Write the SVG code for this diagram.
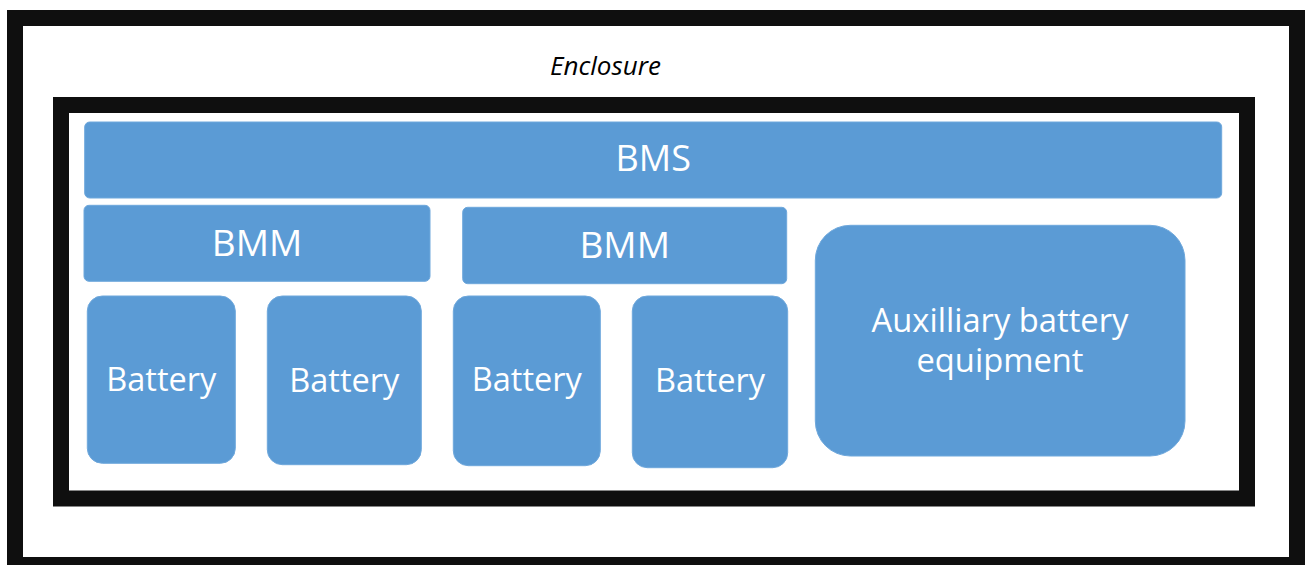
<svg xmlns="http://www.w3.org/2000/svg" width="1309" height="565" viewBox="0 0 1309 565">
<style>
.frame{fill:none;stroke:#0f0f0f;stroke-width:16}
.box{fill:#5b9bd5;stroke:#6fa8dc;stroke-width:1}
.lbl{font-family:"Open Sans","Liberation Sans",sans-serif;fill:#ffffff;text-anchor:middle}
.encl{font-family:"Open Sans","Liberation Sans",sans-serif;font-style:italic;fill:#000000;text-anchor:middle;font-size:26px}
</style>
<rect width="1309" height="565" fill="#ffffff"/>
<g id="enclosure">
<rect class="frame" x="15" y="18" width="1282" height="547"/>
<text class="encl" x="605.5" y="75">Enclosure</text>
</g>
<g id="cabinet">
<rect class="frame" x="61" y="105" width="1186" height="393.5"/>
</g>
<g id="bms">
<rect class="box" x="84.7" y="122" width="1137" height="76" rx="5"/>
<text class="lbl" x="653.2" y="170.5" font-size="36">BMS</text>
</g>
<g id="bmm1">
<rect class="box" x="84" y="205.3" width="346" height="76" rx="5"/>
<text class="lbl" x="257" y="256" font-size="37">BMM</text>
</g>
<g id="bmm2">
<rect class="box" x="462.7" y="207.3" width="324" height="76.4" rx="5"/>
<text class="lbl" x="624.7" y="258" font-size="37">BMM</text>
</g>
<g id="battery1">
<rect class="box" x="87.3" y="296" width="148" height="167.3" rx="15"/>
<text class="lbl" x="161.3" y="391" font-size="32.5">Battery</text>
</g>
<g id="battery2">
<rect class="box" x="267.3" y="296" width="154" height="168.7" rx="15"/>
<text class="lbl" x="344.3" y="392" font-size="32.5">Battery</text>
</g>
<g id="battery3">
<rect class="box" x="453.3" y="296" width="147" height="169.7" rx="15"/>
<text class="lbl" x="526.8" y="391" font-size="32.5">Battery</text>
</g>
<g id="battery4">
<rect class="box" x="632.3" y="296" width="155.4" height="171.7" rx="15"/>
<text class="lbl" x="710" y="392" font-size="32.5">Battery</text>
</g>
<g id="aux">
<rect class="box" x="815.3" y="225.3" width="369.7" height="230.7" rx="35"/>
<text class="lbl" x="1000" y="331.7" font-size="32.7">Auxilliary battery</text>
<text class="lbl" x="1000" y="371.7" font-size="32.7">equipment</text>
</g>
<g id="connectors"/>
</svg>
